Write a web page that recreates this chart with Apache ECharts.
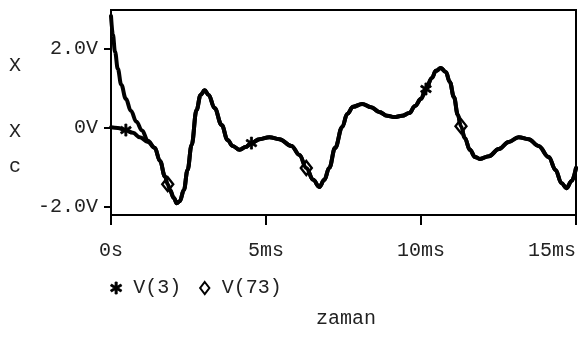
<!DOCTYPE html>
<html>
<head>
<meta charset="utf-8">
<script src="https://cdn.jsdelivr.net/npm/echarts@6/dist/echarts.min.js"></script>
<style>
  html, body { margin: 0; padding: 0; background: #fff; }
  #chart { width: 579px; height: 338px; }
</style>
</head>
<body>
<div id="chart"></div>
<script>
// Transient response: time in ms, voltage in V
const v3Start = [[0, 0.0], [0.22, -0.02], [0.48, -0.07], [0.71, -0.14], [0.93, -0.25], [1.19, -0.37]];
const v73Start = [[0, 2.82], [0.06, 2.35], [0.13, 1.91], [0.22, 1.48], [0.33, 1.08], [0.48, 0.72], [0.64, 0.42], [0.82, 0.14], [1.0, -0.08], [1.19, -0.34]];
// after ~1.4 ms both node voltages coincide
const shared = [
  [1.41, -0.52], [1.58, -0.85], [1.74, -1.24], [1.83, -1.44], [1.90, -1.59], [2.03, -1.79], [2.12, -1.92],
  [2.22, -1.87], [2.35, -1.59], [2.47, -1.08], [2.60, -0.45], [2.76, 0.44], [2.89, 0.82], [3.02, 0.94],
  [3.15, 0.82], [3.34, 0.49], [3.57, 0.06], [3.76, -0.32], [3.92, -0.47], [4.15, -0.57], [4.34, -0.50],
  [4.53, -0.40], [4.79, -0.30], [5.11, -0.25], [5.43, -0.30], [5.82, -0.47], [6.08, -0.70], [6.30, -1.03],
  [6.52, -1.33], [6.72, -1.51], [6.88, -1.33], [7.04, -1.03], [7.23, -0.52], [7.46, 0.01], [7.62, 0.34],
  [7.81, 0.52], [8.10, 0.59], [8.39, 0.51], [8.65, 0.39], [8.91, 0.29], [9.13, 0.26], [9.39, 0.29],
  [9.62, 0.36], [9.81, 0.54], [10.0, 0.72], [10.16, 0.97], [10.35, 1.25], [10.48, 1.43], [10.64, 1.50],
  [10.80, 1.40], [10.93, 1.15], [11.06, 0.77], [11.19, 0.31], [11.29, 0.03], [11.41, -0.27], [11.58, -0.57],
  [11.74, -0.75], [11.90, -0.80], [12.19, -0.73], [12.51, -0.55], [12.83, -0.37], [13.15, -0.25],
  [13.47, -0.30], [13.79, -0.47], [14.12, -0.75], [14.34, -1.08], [14.53, -1.41], [14.69, -1.54],
  [14.86, -1.36], [15.0, -1.03]
];
// sample times where each trace carries its marker
const v3Marks = [0.48, 4.53, 10.16];
const v73Marks = [1.83, 6.30, 11.29];
const seriesNames = ['V(3)', 'V(73)'];
const xTicks = [0, 5, 10, 15];
const yTicks = [-2, 0, 2];
const yTitle = ['X', 'X', 'c'];
const xTitle = 'zaman';

const FONT = '"Liberation Mono", "DejaVu Sans Mono", monospace';
const TXT = '#222';
const ASTERISK = 'path://M-0.9,-5 L0.9,-5 L0.9,5 L-0.9,5 Z M4.78,1.72 L3.88,3.28 L-4.78,-1.72 L-3.88,-3.28 Z M3.88,-3.28 L4.78,-1.72 L-3.88,3.28 L-4.78,1.72 Z';
const DIAMOND = 'path://M0,-6.5 L5,0 L0,6.5 L-5,0 Z';

const starStyle = { color: '#000', borderColor: '#000', borderWidth: 0.8 };
const diamondStyle = { color: '#fff', borderColor: '#000', borderWidth: 2.4 };

function buildData(start, marks, symbol, size, style) {
  return start.concat(shared).map(function (p) {
    if (marks.indexOf(p[0]) >= 0) {
      return { value: p, symbol: symbol, symbolSize: size, itemStyle: style };
    }
    return { value: p, symbol: 'none' };
  });
}

const chart = echarts.init(document.getElementById('chart'), null, { renderer: 'canvas' });

chart.setOption({
  animation: false,
  backgroundColor: '#fff',
  grid: {
    left: 111, right: 1, top: 10, bottom: 123,
    show: true, borderColor: '#000', borderWidth: 2, containLabel: false
  },
  legend: {
    left: 105, top: 273,
    itemWidth: 24, itemHeight: 12, itemGap: 18,
    textStyle: { fontFamily: FONT, fontSize: 20, color: TXT },
    data: [
      { name: seriesNames[0], icon: ASTERISK, itemStyle: starStyle },
      { name: seriesNames[1], icon: DIAMOND, itemStyle: { color: '#fff', borderColor: '#000', borderWidth: 2 } }
    ],
    selectedMode: false
  },
  xAxis: {
    type: 'value', min: 0, max: 15, interval: 5,
    axisLine: { show: true, onZero: false, lineStyle: { color: '#000', width: 2 } },
    axisTick: { show: true, inside: false, length: 10, lineStyle: { color: '#000', width: 2 }, customValues: xTicks },
    splitLine: { show: false },
    axisLabel: {
      customValues: xTicks,
      margin: 26, fontFamily: FONT, fontSize: 20, color: TXT,
      alignMaxLabel: 'right',
      formatter: function (v) { return v === 0 ? '0s' : v + 'ms'; }
    }
  },
  yAxis: {
    type: 'value', min: -2.22, max: 2.97,
    axisLine: { show: true, onZero: false, lineStyle: { color: '#000', width: 2 } },
    axisTick: { show: true, inside: false, length: 7, lineStyle: { color: '#000', width: 2 }, customValues: yTicks },
    splitLine: { show: false },
    axisLabel: {
      customValues: yTicks,
      margin: 13, fontFamily: FONT, fontSize: 20, color: TXT,
      formatter: function (v) { return v === 0 ? '0V' : v.toFixed(1) + 'V'; }
    }
  },
  graphic: [
    { type: 'text', left: 9, top: 56, style: { text: yTitle[0], font: '20px ' + FONT, fill: TXT } },
    { type: 'text', left: 9, top: 122, style: { text: yTitle[1], font: '20px ' + FONT, fill: TXT } },
    { type: 'text', left: 9, top: 157, style: { text: yTitle[2], font: '20px ' + FONT, fill: TXT } },
    { type: 'text', left: 316, top: 309, style: { text: xTitle, font: '20px ' + FONT, fill: TXT } }
  ],
  series: [
    {
      name: seriesNames[1], type: 'line', smooth: 0.4, smoothMonotone: 'x',
      showSymbol: true, showAllSymbol: true, z: 3,
      lineStyle: { color: '#000', width: 4, join: 'round', cap: 'round' }, itemStyle: { color: '#000' },
      data: buildData(v73Start, v73Marks, DIAMOND, [11, 14], diamondStyle)
    },
    {
      name: seriesNames[0], type: 'line', smooth: 0.4, smoothMonotone: 'x',
      showSymbol: true, showAllSymbol: true, z: 4,
      lineStyle: { color: '#000', width: 4, join: 'round', cap: 'round' }, itemStyle: { color: '#000' },
      data: buildData(v3Start, v3Marks, ASTERISK, [11, 12], starStyle)
    }
  ]
});
</script>
</body>
</html>
